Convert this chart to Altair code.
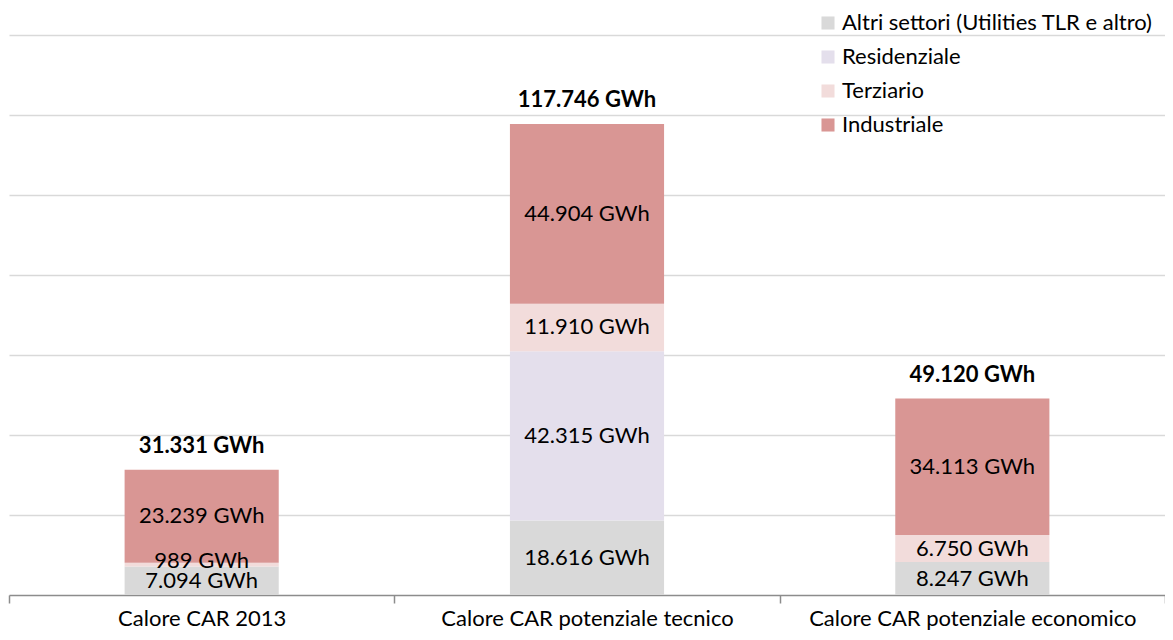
import altair as alt
import pandas as pd

categories = ["Calore CAR 2013", "Calore CAR potenziale tecnico", "Calore CAR potenziale economico"]
sectors = ["Altri settori (Utilities TLR e altro)", "Residenziale", "Terziario", "Industriale"]
colors = ["#d9d9d9", "#e4dfec", "#f2dcdb", "#d99694"]
altri = [7094, 18616, 8247]
residenziale = [0, 42315, 0]
terziario = [989, 11910, 6750]
industriale = [23239, 44904, 34113]
totals = [31331, 117746, 49120]
grid_values = [20000, 40000, 60000, 80000, 100000, 120000, 140000]


def fmt(v):
    return f"{v:,}".replace(",", ".") + " GWh"


series = [altri, residenziale, terziario, industriale]
rows = []
for ci, cat in enumerate(categories):
    for si, sec in enumerate(sectors):
        v = series[si][ci]
        rows.append({"cat": cat, "sector": sec, "order": si, "value": v, "label": fmt(v) if v else ""})
df = pd.DataFrame(rows)
tot_df = pd.DataFrame({"cat": categories, "total": totals, "label": [fmt(t) for t in totals]})

FONT = "Lato"
FS = 22

xenc = alt.X(
    "cat:N",
    sort=categories,
    title=None,
    scale=alt.Scale(paddingInner=0, paddingOuter=0),
    axis=alt.Axis(
        labelAngle=0, labelFontSize=FS, labelFont=FONT, labelColor="#000000",
        labelLimit=0, labelBaseline="middle",
        tickBand="extent", tickSize=8, tickColor="#8c8c8c", domainColor="#8c8c8c",
        domainWidth=1.5, tickWidth=1.5, labelPadding=15, grid=False,
    ),
)

base = alt.Chart(df)

bars = base.mark_bar(width=alt.RelativeBandSize(0.4)).encode(
    x=xenc,
    y=alt.Y(
        "value:Q",
        stack="zero",
        scale=alt.Scale(domain=[0, 140000], nice=False),
        axis=alt.Axis(
            title=None, labels=False, ticks=False, domain=False, grid=True,
            values=grid_values, gridColor="#d9d9d9", gridWidth=1.5,
        ),
    ),
    color=alt.Color(
        "sector:N",
        scale=alt.Scale(domain=sectors, range=colors),
        legend=alt.Legend(
            title=None, orient="none", legendX=808, legendY=-23,
            symbolType="square", symbolSize=170, symbolStrokeWidth=0,
            labelFontSize=FS, labelFont=FONT, labelColor="#000000", labelLimit=0,
            rowPadding=12, labelOffset=3,
        ),
    ),
    order=alt.Order("order:Q"),
)

stacked = base.transform_filter("datum.value > 0").transform_stack(
    stack="value", groupby=["cat"], as_=["y0", "y1"], sort=[alt.SortField("order")]
).transform_calculate(mid="(datum.y0 + datum.y1) / 2")

seg_text = stacked.transform_filter("datum.value >= 2000").mark_text(
    fontSize=FS, font=FONT, color="#000000", baseline="middle"
).encode(
    x=alt.X("cat:N", sort=categories),
    y=alt.Y("mid:Q"),
    text="label:N",
)

small_text = stacked.transform_filter("datum.value < 2000").mark_text(
    fontSize=FS, font=FONT, color="#000000", baseline="middle", dy=-4
).encode(
    x=alt.X("cat:N", sort=categories),
    y=alt.Y("mid:Q"),
    text="label:N",
)

tot_text = alt.Chart(tot_df).mark_text(
    fontSize=FS, font=FONT, fontWeight="bold", color="#000000", baseline="middle", dy=-24
).encode(
    x=alt.X("cat:N", sort=categories),
    y=alt.Y("total:Q"),
    text="label:N",
)

chart = alt.layer(bars, seg_text, small_text, tot_text).properties(
    width=1156, height=560,
    autosize=alt.AutoSizeParams(type="none"),
    padding={"left": 1, "top": 27, "right": 0, "bottom": 37},
    background="white",
).configure_view(stroke=None)

chart.save("out.html", embed_options={"renderer": "svg", "actions": False})
